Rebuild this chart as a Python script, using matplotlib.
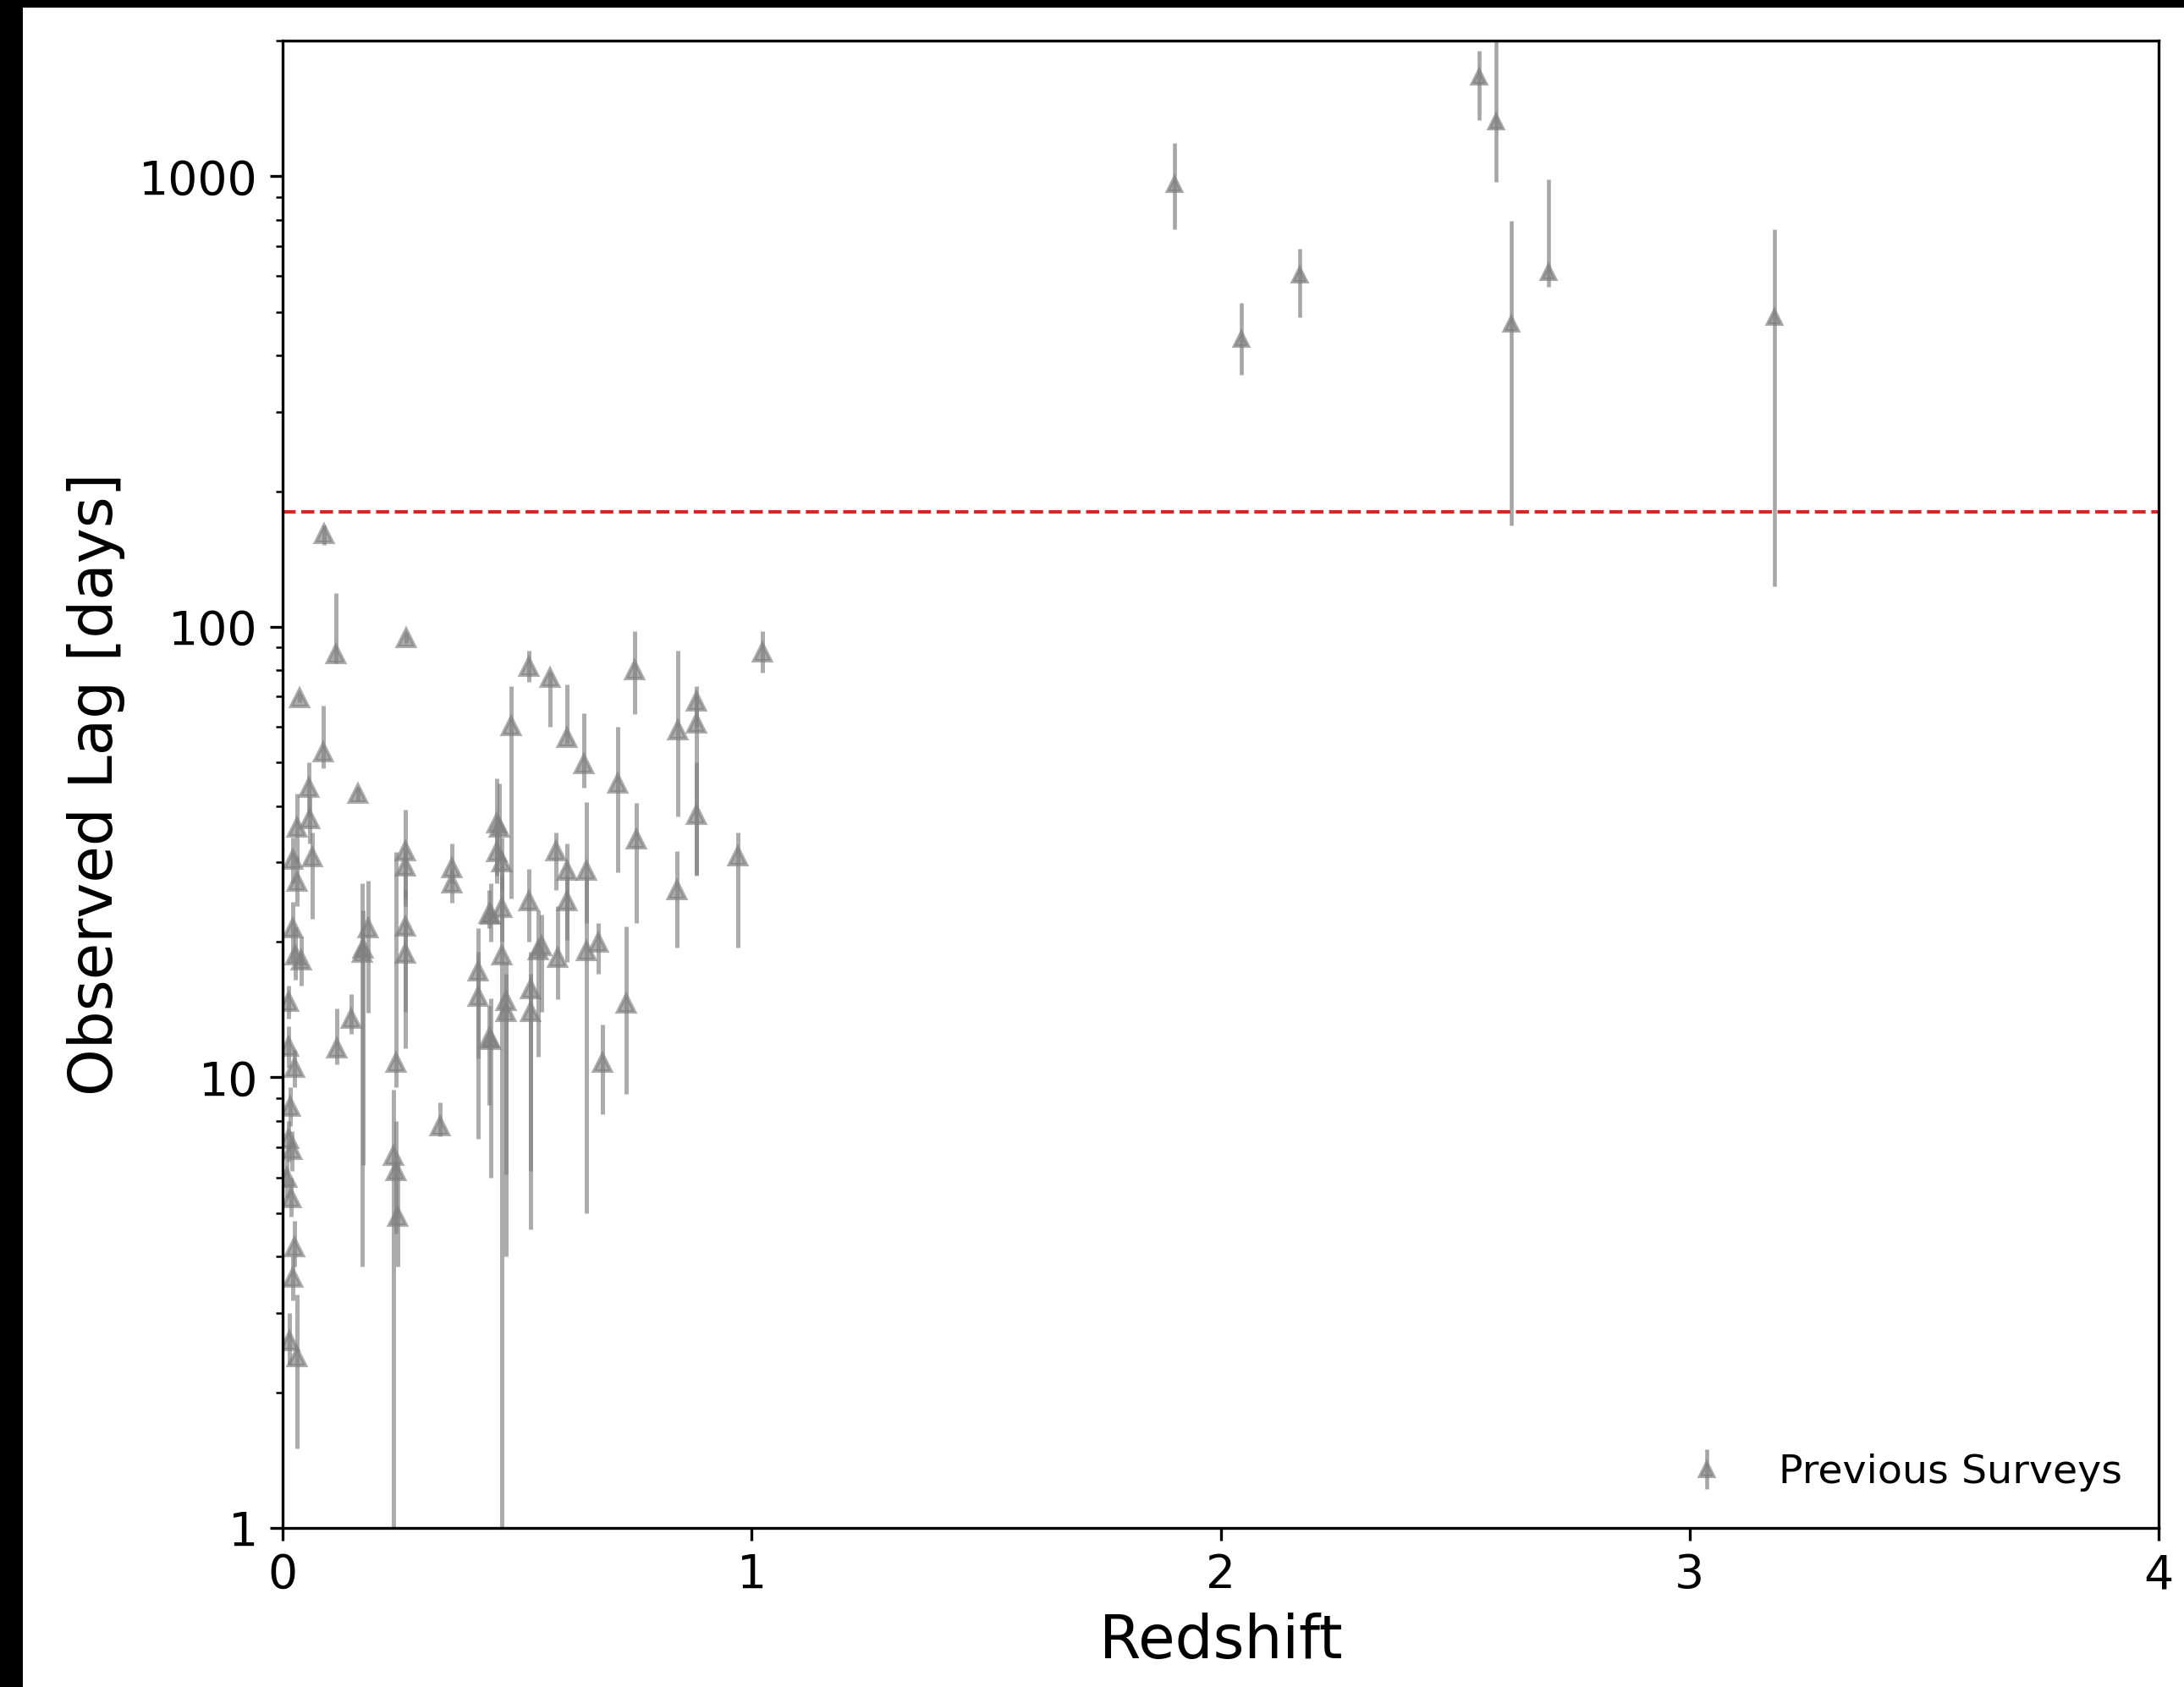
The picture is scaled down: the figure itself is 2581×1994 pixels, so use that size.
#!/usr/bin/env python3

import numpy as np
import matplotlib
matplotlib.use('Agg')
import matplotlib.pyplot as plt
from matplotlib.patches import Rectangle
from matplotlib.ticker import FuncFormatter, NullFormatter

# low-redshift lags from previous surveys (z, lag, lower bound, upper bound) in days
z_near = [0.013, 0.022, 0.027, 0.040, 0.031, 0.022, 0.063, 0.031, 0.058, 0.056,
          0.036, 0.086, 0.088, 0.113, 0.263, 0.160, 0.013, 0.025, 0.016, 0.013,
          0.020, 0.009, 0.018, 0.025, 0.022, 0.030, 0.015,
          0.115, 0.147, 0.169, 0.172, 0.183,
          0.241, 0.237, 0.241, 0.245, 0.261, 0.261, 0.261, 0.261,
          0.335, 0.360, 0.360,
          0.417, 0.417, 0.441, 0.441, 0.444, 0.444, 0.457, 0.462, 0.468, 0.468,
          0.487, 0.468, 0.477, 0.477, 0.456,
          0.525, 0.525, 0.529, 0.529, 0.545, 0.552,
          0.570, 0.583, 0.587, 0.606, 0.606, 0.606,
          0.642, 0.648, 0.648, 0.673, 0.682,
          0.714, 0.732, 0.750, 0.754,
          0.840, 0.843, 0.882, 0.882, 0.882,
          0.971, 1.023]
lag_near = [14.7, 21.4, 18.7, 18.2, 27.2, 30.5, 30.8, 35.8, 37.5, 44.0,
            69.6, 52.8, 161, 87.0, 94.6, 42.7, 11.7, 10.5, 8.6, 7.3,
            6.9, 6.0, 5.4, 4.2, 3.6, 2.4, 2.6,
            11.6, 13.5, 18.9, 19.3, 21.4,
            10.8, 6.7, 6.2, 4.9, 31.8, 29.4, 21.6, 18.8,
            7.8, 29.2, 27.0,
            17.2, 15.1, 12.2, 23.1, 23.0, 12.1, 36.6, 35.9, 30.1, 18.7,
            60.3, 23.8, 14.8, 14.0, 31.6,
            81.6, 24.6, 15.7, 14.0, 19.2, 19.6,
            77.2, 31.8, 18.4, 56.8, 28.8, 24.6,
            49.7, 28.8, 19.1, 19.9, 10.8,
            45.0, 14.6, 80.2, 33.8,
            26.1, 59.0, 68.4, 61.1, 38.2,
            31.0, 87.9]
lo_near = [13.5, 18.0, 16.5, 16.0, 24.0, 27.0, 22.5, 30.0, 33.0, 38.0,
           68.0, 48.6, 152, 83.0, 92.0, 41.0, 10.5, 9.5, 7.8, 6.5,
           6.2, 5.4, 4.9, 3.8, 3.2, 1.5, 2.3,
           10.7, 12.5, 3.8, 6.4, 13.9,
           9.5, 0.5, 4.5, 3.8, 24.0, 25.0, 14.0, 11.6,
           7.4, 27.0, 24.4,
           7.3, 11.0, 8.7, 21.4, 20.0, 6.0, 27.0, 30.0, 26.0, 0.5,
           25.0, 20.0, 6.1, 4.0, 28.0,
           75.5, 20.0, 6.2, 4.6, 11.1, 14.0,
           60.0, 26.0, 14.9, 55.0, 20.2, 18.0,
           44.0, 22.0, 5.0, 17.0, 8.3,
           28.5, 9.2, 64.0, 22.0,
           19.4, 37.9, 60.0, 28.1, 28.0,
           19.4, 79.0]
hi_near = [16.0, 24.5, 21.5, 20.5, 31.0, 34.0, 35.0, 42.7, 42.0, 50.0,
           71.0, 66.9, 168, 119, 97.0, 44.0, 13.0, 11.5, 9.5, 8.0,
           7.6, 6.6, 6.0, 4.8, 4.0, 3.3, 3.0,
           14.2, 15.3, 27.0, 23.5, 27.3,
           31.6, 9.4, 8.0, 6.5, 39.2, 32.0, 26.0, 22.0,
           8.8, 33.0, 29.0,
           21.4, 19.0, 14.4, 26.0, 27.0, 15.0, 46.0, 45.0, 34.0, 30.0,
           73.9, 28.0, 18.0, 17.0, 35.0,
           88.6, 29.0, 19.0, 17.0, 23.5, 23.0,
           79.0, 35.0, 24.0, 74.5, 33.0, 28.0,
           64.2, 40.9, 28.0, 22.0, 13.1,
           60.0, 21.6, 98.0, 40.6,
           31.8, 88.6, 74.0, 70.0, 50.0,
           35.0, 98.0]

# high-redshift lags
z_far = [1.902, 2.045, 2.169, 2.552, 2.588, 2.620, 2.700, 3.181]
lag_far = [958, 434, 603, 1660, 1320, 470, 611, 487]
lo_far = [763, 363, 487, 1330, 972, 168, 569, 123]
hi_far = [1186, 523, 690, 1900, 2500, 796, 986, 763]

lag_limit = 180  # days

lag_near = np.array(lag_near)
err_near = [lag_near - np.array(lo_near), np.array(hi_near) - lag_near]
lag_far = np.array(lag_far)
err_far = [lag_far - np.array(lo_far), np.array(hi_far) - lag_far]

fig = plt.figure(figsize=(2581 / 300, 1994 / 300), dpi=300, facecolor='black')
fig.add_artist(Rectangle((27 / 2581, 0), 1, 1 - 9 / 1994, transform=fig.transFigure,
                         facecolor='white', edgecolor='none', zorder=-10))
ax = fig.add_axes([334 / 2581, 1 - 1806 / 1994, (2551 - 334) / 2581, (1806 - 48) / 1994])

ax.errorbar(z_near, lag_near, yerr=err_near, fmt='^', color='gray', alpha=0.65,
            markersize=4.6, elinewidth=1.2, capsize=0)
ax.errorbar(z_far, lag_far, yerr=err_far, fmt='^', color='gray', alpha=0.7,
            markersize=4.0, elinewidth=1.1, capsize=0, label='Previous Surveys')
ax.axhline(lag_limit, color='#d62728', linestyle='--', linewidth=1)

ax.set_yscale('log')
ax.set_xlim(0, 4)
ax.set_ylim(1, 2000)
ax.yaxis.set_major_formatter(FuncFormatter(lambda v, p: f'{v:g}'))
ax.yaxis.set_minor_formatter(NullFormatter())
ax.set_xticks([0, 1, 2, 3, 4])
ax.tick_params(labelsize=13.3)
ax.set_xlabel('Redshift', fontsize=17)
ax.set_ylabel('Observed Lag [days]', fontsize=17)
ax.legend(loc='lower right', frameon=False, fontsize=11.4)

fig.savefig('out.png', dpi=300)
